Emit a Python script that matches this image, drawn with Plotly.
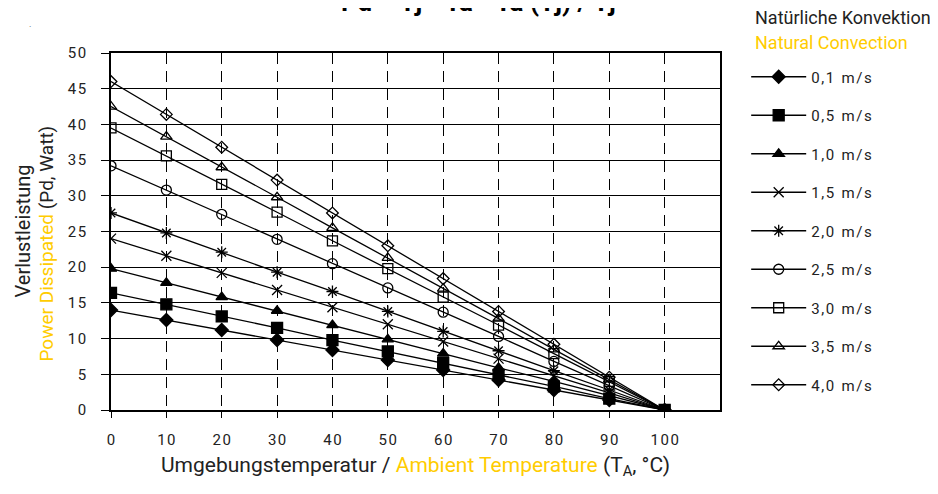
import plotly.graph_objects as go

temps = [0, 10, 20, 30, 40, 50, 60, 70, 80, 90, 100]
series_names = ["0,1 m/s", "0,5 m/s", "1,0 m/s", "1,5 m/s", "2,0 m/s",
                "2,5 m/s", "3,0 m/s", "3,5 m/s", "4,0 m/s"]
pd_01 = [14.0, 12.6, 11.2, 9.8, 8.4, 7.0, 5.6, 4.2, 2.8, 1.4, 0]
pd_05 = [16.4, 14.8, 13.1, 11.5, 9.8, 8.2, 6.6, 4.9, 3.3, 1.6, 0]
pd_10 = [19.8, 17.8, 15.8, 13.9, 11.9, 9.9, 7.9, 5.9, 4.0, 2.0, 0]
pd_15 = [24.0, 21.6, 19.2, 16.8, 14.4, 12.0, 9.6, 7.2, 4.8, 2.4, 0]
pd_20 = [27.6, 24.8, 22.1, 19.3, 16.6, 13.8, 11.0, 8.3, 5.5, 2.8, 0]
pd_25 = [34.2, 30.8, 27.4, 23.9, 20.5, 17.1, 13.7, 10.3, 6.8, 3.4, 0]
pd_30 = [39.5, 35.6, 31.6, 27.7, 23.7, 19.8, 15.8, 11.9, 7.9, 4.0, 0]
pd_35 = [42.5, 38.3, 34.0, 29.8, 25.5, 21.3, 17.0, 12.8, 8.5, 4.3, 0]
pd_40 = [46.0, 41.4, 36.8, 32.2, 27.6, 23.0, 18.4, 13.8, 9.2, 4.6, 0]
all_series = [pd_01, pd_05, pd_10, pd_15, pd_20, pd_25, pd_30, pd_35, pd_40]

x_tick_vals = [0, 10, 20, 30, 40, 50, 60, 70, 80, 90, 100]
x_tick_labels = ["0", "10", "20", "30", "40", "50", "60", "70", "80", "90", "100"]
y_tick_vals = [0, 5, 10, 15, 20, 25, 30, 35, 40, 45, 50]
y_tick_labels = ["0", "5", "10", "15", "20", "25", "30", "35", "40", "45", "50"]

symbols = ["diamond", "square", "triangle-up", "x-thin-open", "asterisk-open",
           "circle-open", "square-open", "triangle-up-open", "diamond-open"]
sizes = [10, 11, 10, 10, 10, 10, 10, 10, 9]

YEL = "#FFCC00"
HS = "\u200a"

def spaced(s):
    return HS.join(list(s))

fig = go.Figure()
for name, vals, sym, sz in zip(series_names, all_series, symbols, sizes):
    num, unit = name.split(" ")
    label = spaced(num) + "  " + spaced(unit)
    fig.add_trace(go.Scatter(
        x=temps, y=vals, mode="lines+markers", name=label,
        legendgroup=name,
        line=dict(color="black", width=1.3),
        marker=dict(symbol=sym, size=sz, color="black",
                    line=dict(color="black", width=1.3)),
    ))

# page is offset by the 8px body margin, so the figure frame starts at (8, 8)
fig.update_layout(
    width=938, height=494,
    margin=dict(l=103, r=226, t=45, b=92),
    paper_bgcolor="white", plot_bgcolor="white",
    font=dict(family="Roboto", size=14, color="#222"),
    showlegend=True,
    legend=dict(x=1.043, xanchor="left", y=0.979, yanchor="top",
                tracegroupgap=16, font=dict(size=15, family="Roboto", color="#222"),
                itemwidth=55, bgcolor="rgba(0,0,0,0)"),
)
fig.update_xaxes(
    range=[0, 110], tickvals=x_tick_vals, ticktext=[spaced(t) for t in x_tick_labels],
    showgrid=True, gridcolor="black", gridwidth=1, griddash="11px,7px",
    showline=True, linecolor="black", linewidth=1.5, mirror=True,
    ticks="outside", ticklen=6, tickcolor="black", ticklabelstandoff=9,
    zeroline=False, tickfont=dict(size=15),
)
fig.update_yaxes(
    range=[0, 50], tickvals=y_tick_vals,
    ticktext=[spaced(t) for t in y_tick_labels],
    showgrid=True, gridcolor="black", gridwidth=1,
    showline=True, linecolor="black", linewidth=1.5, mirror=True,
    ticks="outside", ticklen=8, tickcolor="black", ticklabelstandoff=12,
    ticklabelposition="outside",
    zeroline=False, tickfont=dict(size=15),
)

ann = []
# clipped title at top
ann.append(dict(text="<b>Pd = Tj - Ta - Ta (Tj) / Tj</b>", xref="paper", yref="paper",
                x=(478 - 111) / 609, y=(410 - 19) / 357, xanchor="center", yanchor="bottom",
                showarrow=False, font=dict(size=26, family="Roboto", color="black")))
ann.append(dict(text=".", xref="paper", yref="paper", x=(30 - 111) / 609, y=(410 - 24) / 357,
                xanchor="center", yanchor="middle", showarrow=False,
                font=dict(size=9, color="#555")))
# legend headings
ann.append(dict(text="Natürliche Konvektion", xref="paper", yref="paper",
                x=(753 - 111) / 609, y=(410 - 18) / 357, xanchor="left", yanchor="middle",
                showarrow=False, font=dict(size=18, family="Roboto", color="#222")))
ann.append(dict(text="Natural Convection", xref="paper", yref="paper",
                x=(753 - 111) / 609, y=(410 - 42) / 357, xanchor="left", yanchor="middle",
                showarrow=False, font=dict(size=18, family="Roboto", color=YEL)))
# y-axis titles
ann.append(dict(text="Verlustleistung", xref="paper", yref="paper",
                x=(22 - 111) / 609, y=0.5, xanchor="center", yanchor="middle",
                textangle=-90, showarrow=False,
                font=dict(size=20, family="Roboto", color="#222")))
ann.append(dict(text="<span style='color:%s'>Power Dissipated</span> (Pd, Watt)" % YEL,
                xref="paper", yref="paper",
                x=(46 - 111) / 609, y=0.5 - 12 / 357, xanchor="center", yanchor="middle",
                textangle=-90, showarrow=False,
                font=dict(size=19, family="Roboto", color="#222")))
# x-axis title
ann.append(dict(text="Umgebungstemperatur / <span style='color:%s'>Ambient Temperature</span> (T<sub>A</sub>, °C)" % YEL,
                xref="paper", yref="paper",
                x=0.5, y=(410 - 467) / 357, xanchor="center", yanchor="middle",
                showarrow=False, font=dict(size=21, family="Roboto", color="#222")))
fig.update_layout(annotations=ann)

fig.write_html("out.html")
